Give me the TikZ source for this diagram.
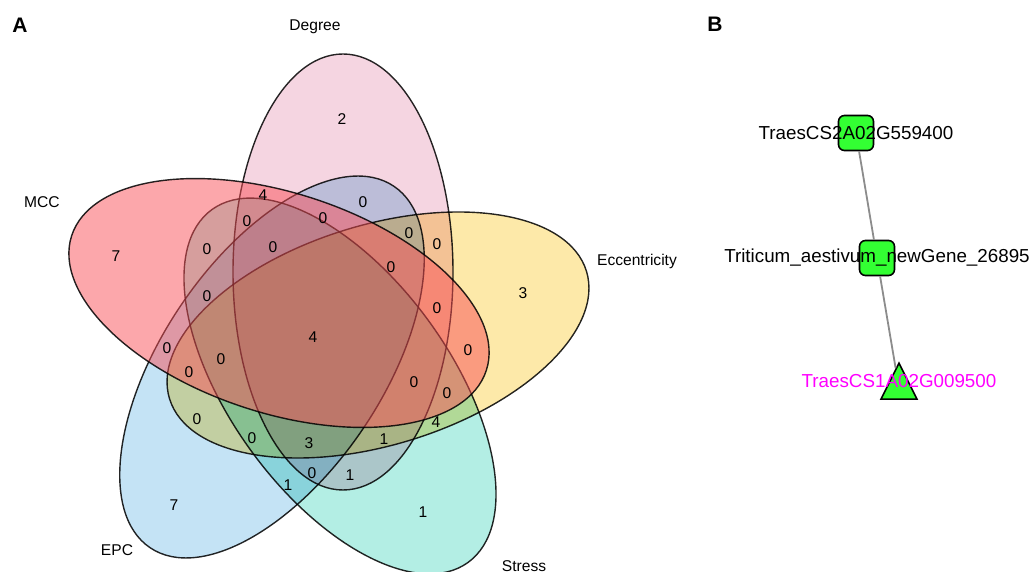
\documentclass[tikz,border=0pt]{standalone}
\usepackage{fontspec}
\setmainfont{Liberation Sans}
\usetikzlibrary{shapes.geometric}

\definecolor{degreecol}{HTML}{F5D5E1}
\definecolor{mcccol}{HTML}{F94F57}
\definecolor{ecccol}{HTML}{FDE9A9}
\definecolor{epccol}{HTML}{C4E3F5}
\definecolor{stresscol}{HTML}{B3EEE4}
\definecolor{genegreen}{HTML}{33FF33}
\definecolor{genemagenta}{HTML}{FF00FF}
\definecolor{linkgray}{HTML}{8C8C8C}

\begin{document}
\begin{tikzpicture}[x=0.5pt,y=-0.5pt]
  \tikzstyle{every path}=[line width=0.7pt]

  \edef\semimajor{109pt}
  \edef\semiminor{55pt}
  \tikzstyle{setfill}=[blend mode=multiply]
  \tikzstyle{setline}=[draw=black,draw opacity=0.85]
  \tikzstyle{setname}=[font=\fontsize{7.8}{9}\selectfont]
  \tikzstyle{count}=[font=\fontsize{7.8}{9}\selectfont,inner sep=0pt]
  \tikzstyle{panel}=[font=\fontsize{10.5}{12}\bfseries\selectfont]
  \tikzstyle{every label}=[font=\fontsize{9.4}{11}\selectfont]
  \tikzstyle{gene}=[draw,fill=genegreen,line width=0.8pt,rounded corners=3pt,minimum size=17.5pt,inner sep=0pt]
  \tikzstyle{target}=[draw,fill=genegreen,line width=0.8pt,isosceles triangle,shape border rotate=90,isosceles triangle stretches,minimum width=18pt,minimum height=18pt,inner sep=0pt]
  \tikzstyle{link}=[draw=linkgray,line width=0.9pt]

  \useasboundingbox (0,0) rectangle (1030,572);

  % A: five sets, MCC goes on top
  \fill[setfill,fill=degreecol,rotate around={90:(343,272)}] (343,272) ellipse [x radius=\semimajor,y radius=\semiminor];
  \fill[setfill,fill=epccol,rotate around={56:(272,367)}] (272,367) ellipse [x radius=\semimajor,y radius=\semiminor];
  \fill[setfill,fill=stresscol,rotate around={126:(340,386)}] (340,386) ellipse [x radius=\semimajor,y radius=\semiminor];
  \fill[setfill,fill=ecccol,rotate around={17:(378,335)}] (378,335) ellipse [x radius=\semimajor,y radius=\semiminor];

  \draw[setline,rotate around={90:(343,272)}] (343,272) ellipse [x radius=\semimajor,y radius=\semiminor];
  \draw[setline,rotate around={56:(272,367)}] (272,367) ellipse [x radius=\semimajor,y radius=\semiminor];
  \draw[setline,rotate around={126:(340,386)}] (340,386) ellipse [x radius=\semimajor,y radius=\semiminor];
  \draw[setline,rotate around={17:(378,335)}] (378,335) ellipse [x radius=\semimajor,y radius=\semiminor];

  \fill[fill=mcccol,fill opacity=0.5,rotate around={162:(279,303)}] (279,303) ellipse [x radius=\semimajor,y radius=\semiminor];
  \draw[setline,rotate around={162:(279,303)}] (279,303) ellipse [x radius=\semimajor,y radius=\semiminor];

  \node[setname] (degree) at (315,27) {Degree};
  \node[setname] (mcc) at (42,202) {MCC};
  \node[setname] (ecc) at (637,261) {Eccentricity};
  \node[setname] (epc) at (117,550) {EPC};
  \node[setname] (stress) at (524,566) {Stress};

  \node[count] (r1) at (342,119) {2};
  \node[count] (r2) at (263,195) {4};
  \node[count] (r3) at (363,202) {0};
  \node[count] (r4) at (247,221) {0};
  \node[count] (r5) at (323,218) {0};
  \node[count] (r6) at (409,233) {0};
  \node[count] (r7) at (437,244) {0};
  \node[count] (r8) at (116,256) {7};
  \node[count] (r9) at (207,249) {0};
  \node[count] (r10) at (273,247) {0};
  \node[count] (r11) at (391,267) {0};
  \node[count] (r12) at (523,293) {3};
  \node[count] (r13) at (207,296) {0};
  \node[count] (r14) at (437,308) {0};
  \node[count] (r15) at (313,337) {4};
  \node[count] (r16) at (167,348) {0};
  \node[count] (r17) at (221,359) {0};
  \node[count] (r18) at (468,350) {0};
  \node[count] (r19) at (189,372) {0};
  \node[count] (r20) at (414,382) {0};
  \node[count] (r21) at (447,393) {0};
  \node[count] (r22) at (436,422) {4};
  \node[count] (r23) at (197,419) {0};
  \node[count] (r24) at (252,438) {0};
  \node[count] (r25) at (309,443) {3};
  \node[count] (r26) at (384,439) {1};
  \node[count] (r27) at (312,473) {0};
  \node[count] (r28) at (350,475) {1};
  \node[count] (r29) at (288,485) {1};
  \node[count] (r30) at (174,505) {7};
  \node[count] (r31) at (423,512) {1};

  % B: network
  \node[gene,label={center:TraesCS2A02G559400}] (g1) at (856,133) {};
  \node[gene,label={center:Triticum\_aestivum\_newGene\_26895}] (g2) at (877,258) {};
  \node[target,label={[text=genemagenta,yshift=3.5pt]center:TraesCS1A02G009500}] (g3) at (899,388) {};

  \draw[link] (g1) -- (g2);
  \draw[link] (g2) -- (g3);

  \node[panel] (pa) at (20,25) {A};
  \node[panel] (pb) at (715,24) {B};
\end{tikzpicture}
\end{document}
